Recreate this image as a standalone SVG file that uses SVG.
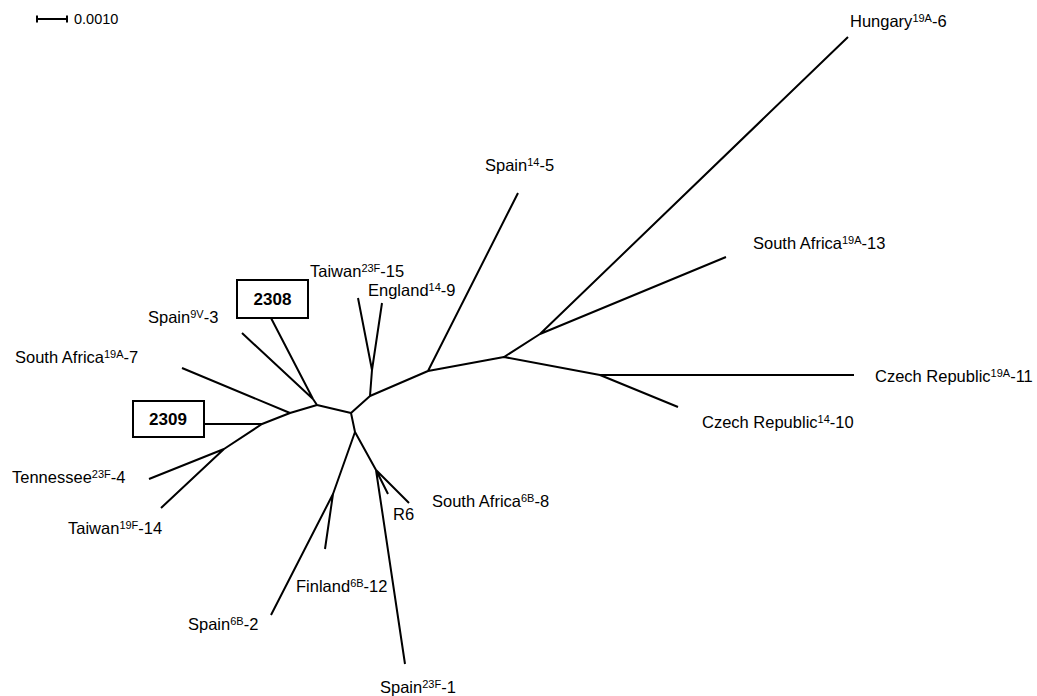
<svg xmlns="http://www.w3.org/2000/svg" width="1037" height="696" viewBox="0 0 1037 696">
<style>
.lbl{font-family:"Liberation Sans",Arial,Helvetica,sans-serif;font-size:16.5px;fill:#000}
.sup{font-size:11px}
.box{fill:#fff;stroke:#000;stroke-width:2}
.boxt{font-family:"Liberation Sans",Arial,Helvetica,sans-serif;font-size:17px;font-weight:bold;fill:#000;text-anchor:middle}
.br{fill:none;stroke:#000;stroke-width:2;stroke-linejoin:round}
.sc{fill:none;stroke:#000;stroke-width:2}
</style>
<rect width="1037" height="696" fill="#fff"/>
<g id="scale">
<path class="sc" d="M37,19 H67 M37,15.5 V22.5 M67,15.5 V22.5"/>
<text x="74" y="24" font-family="Liberation Sans,Arial,sans-serif" font-size="14.5">0.0010</text>
</g>
<g id="connectors">
<path class="br" d="M351,413 L317,405 L313,399 L242,333 M313,399 L271,318"/>
<path class="br" d="M317,405 L290,413 L182,368 M290,413 L262,424 L204,424 M262,424 L224,449 L149,479 M224,449 L161,508"/>
<path class="br" d="M351,413 L355,432 L333,494 L271,615 M333,494 L325,549 M355,432 L376,470 L409,503 M376,470 L388,494 M376,470 L405,664"/>
<path class="br" d="M351,413 L370,396 L372,370 L358,298 M372,370 L382,303"/>
<path class="br" d="M370,396 L428,371 L518,193 M428,371 L504,357 L540,334 L848,37 M540,334 L726,257 M504,357 L600,375 L854,375 M600,375 L678,407"/>
</g>
<g id="hungary6"><text class="lbl" x="850" y="27">Hungary<tspan class="sup" dy="-5">19A</tspan><tspan dy="5">-6</tspan></text></g>
<g id="spain5"><text class="lbl" x="485" y="171">Spain<tspan class="sup" dy="-5">14</tspan><tspan dy="5">-5</tspan></text></g>
<g id="southafrica13"><text class="lbl" x="753" y="249">South Africa<tspan class="sup" dy="-5">19A</tspan><tspan dy="5">-13</tspan></text></g>
<g id="czech11"><text class="lbl" x="875" y="382">Czech Republic<tspan class="sup" dy="-5">19A</tspan><tspan dy="5">-11</tspan></text></g>
<g id="czech10"><text class="lbl" x="702" y="428">Czech Republic<tspan class="sup" dy="-5">14</tspan><tspan dy="5">-10</tspan></text></g>
<g id="taiwan15"><text class="lbl" x="310" y="277">Taiwan<tspan class="sup" dy="-5">23F</tspan><tspan dy="5">-15</tspan></text></g>
<g id="england9"><text class="lbl" x="368" y="296">England<tspan class="sup" dy="-5">14</tspan><tspan dy="5">-9</tspan></text></g>
<g id="spain3"><text class="lbl" x="148" y="323">Spain<tspan class="sup" dy="-5">9V</tspan><tspan dy="5">-3</tspan></text></g>
<g id="southafrica7"><text class="lbl" x="15" y="363">South Africa<tspan class="sup" dy="-5">19A</tspan><tspan dy="5">-7</tspan></text></g>
<g id="tennessee4"><text class="lbl" x="12" y="483">Tennessee<tspan class="sup" dy="-5">23F</tspan><tspan dy="5">-4</tspan></text></g>
<g id="taiwan14"><text class="lbl" x="68" y="534">Taiwan<tspan class="sup" dy="-5">19F</tspan><tspan dy="5">-14</tspan></text></g>
<g id="southafrica8"><text class="lbl" x="432" y="507">South Africa<tspan class="sup" dy="-5">6B</tspan><tspan dy="5">-8</tspan></text></g>
<g id="r6"><text class="lbl" x="393" y="520">R6</text></g>
<g id="finland12"><text class="lbl" x="296" y="592">Finland<tspan class="sup" dy="-5">6B</tspan><tspan dy="5">-12</tspan></text></g>
<g id="spain2"><text class="lbl" x="188" y="630">Spain<tspan class="sup" dy="-5">6B</tspan><tspan dy="5">-2</tspan></text></g>
<g id="spain1"><text class="lbl" x="380" y="693">Spain<tspan class="sup" dy="-5">23F</tspan><tspan dy="5">-1</tspan></text></g>
<g id="n2308"><rect class="box" x="237" y="280" width="71" height="38"/><text class="boxt" x="272.5" y="305">2308</text></g>
<g id="n2309"><rect class="box" x="133" y="401" width="71" height="36"/><text class="boxt" x="168" y="425">2309</text></g>
</svg>
